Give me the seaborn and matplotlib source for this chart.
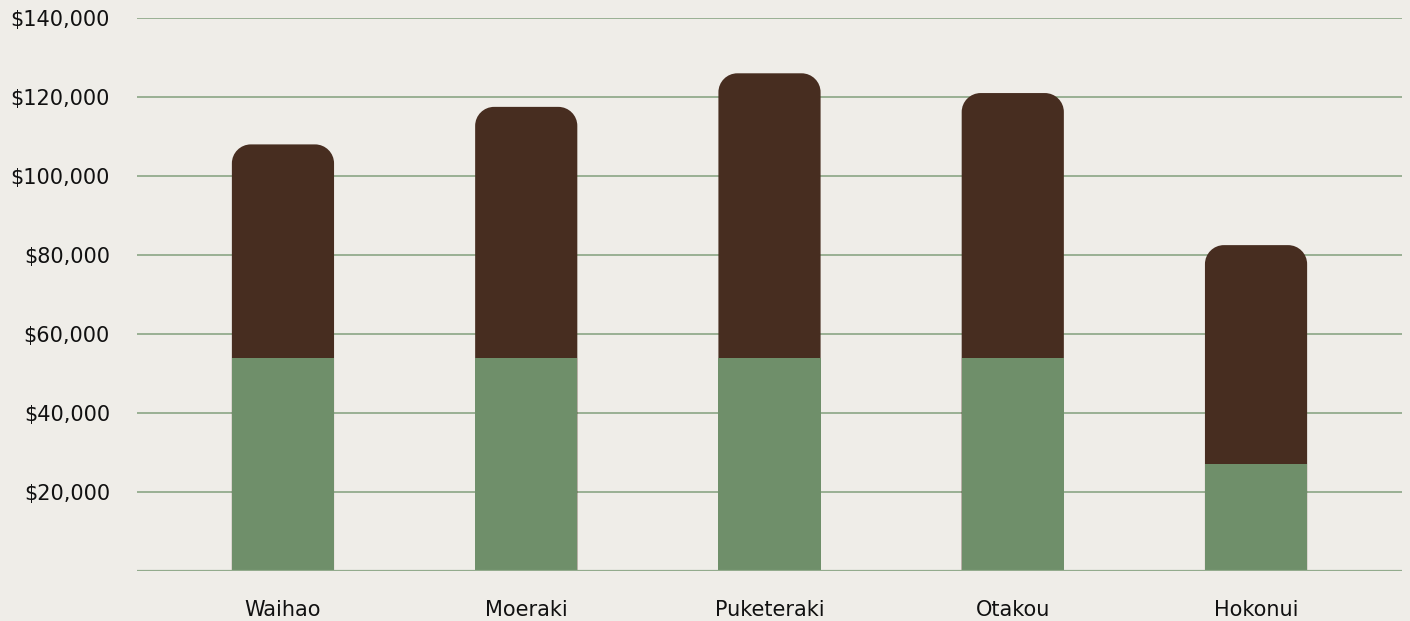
import matplotlib
matplotlib.use("Agg")
import matplotlib.pyplot as plt
from matplotlib.patches import PathPatch
from matplotlib.path import Path
import seaborn as sns
import pandas as pd

# Category labels and the two stacked series (dollars)
regions = ["Waihao", "Moeraki", "Puketeraki", "Otakou", "Hokonui"]
base_amount = [54000, 54000, 54000, 54000, 27000]
top_amount = [54000, 63500, 72000, 67000, 55500]
y_ticks = [20000, 40000, 60000, 80000, 100000, 120000, 140000]

BG = "#EFEDE8"
GREEN = "#6F8F6A"
BROWN = "#472D20"
GRID = "#93AB8D"

sns.set_theme(style="white")
plt.rcParams["font.family"] = ["DejaVu Sans"]

df = pd.DataFrame({
    "region": regions,
    "base": base_amount,
    "total": [b + t for b, t in zip(base_amount, top_amount)],
})

fig = plt.figure(figsize=(14.10, 6.21), dpi=100, facecolor=BG)
ax = fig.add_axes([137 / 1410, 50 / 621, 1265 / 1410, 553 / 621])
ax.set_facecolor(BG)

width = 0.42
sns.barplot(data=df, x="region", y="total", color=BROWN, width=width,
            saturation=1, linewidth=0, ax=ax, zorder=2)
sns.barplot(data=df, x="region", y="base", color=GREEN, width=width,
            saturation=1, linewidth=0, ax=ax, zorder=3)

ax.set_xlim(-0.6, len(regions) - 0.4)
ax.set_ylim(0, 140000)


def top_rounded_path(x0, y0, w, h, rx, ry):
    """Rectangle path with circular-looking rounded top corners."""
    k = 0.5523
    x1, y1 = x0 + w, y0 + h
    verts = [
        (x0, y0),
        (x1, y0),
        (x1, y1 - ry),
        (x1, y1 - ry + k * ry), (x1 - rx + k * rx, y1), (x1 - rx, y1),
        (x0 + rx, y1),
        (x0 + rx - k * rx, y1), (x0, y1 - ry + k * ry), (x0, y1 - ry),
        (x0, y0),
    ]
    codes = [Path.MOVETO, Path.LINETO, Path.LINETO,
             Path.CURVE4, Path.CURVE4, Path.CURVE4,
             Path.LINETO,
             Path.CURVE4, Path.CURVE4, Path.CURVE4,
             Path.CLOSEPOLY]
    return Path(verts, codes)


# Swap the upper bars for versions with rounded top corners
n = len(regions)
rx = 0.078
ry = 4800
for p in list(ax.patches[:n]):
    x0, y0 = p.get_x(), p.get_y()
    w, h = p.get_width(), p.get_height()
    p.set_visible(False)
    ax.add_patch(PathPatch(top_rounded_path(x0, y0, w, h, rx, ry),
                           facecolor=BROWN, edgecolor="none", linewidth=0,
                           zorder=2))

ax.set_yticks(y_ticks)
ax.set_yticklabels([f"${v:,.0f}" for v in y_ticks])
ax.yaxis.grid(True, color=GRID, linewidth=1.3, zorder=0)
ax.set_axisbelow(True)
ax.axhline(0, color=GRID, linewidth=1.6, zorder=4)

for s in ax.spines.values():
    s.set_visible(False)

ax.set_xlabel("")
ax.set_ylabel("")
ax.tick_params(axis="y", length=0, pad=19.5, labelsize=15, labelcolor="#111111")
ax.tick_params(axis="x", length=0, pad=21, labelsize=15, labelcolor="#111111")

fig.savefig("out.png", dpi=100, facecolor=BG)
